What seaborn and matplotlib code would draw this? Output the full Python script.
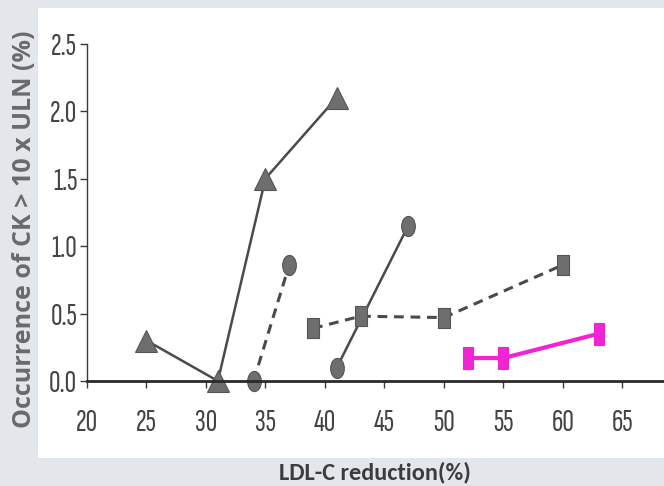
import matplotlib
matplotlib.use("Agg")
import matplotlib.pyplot as plt
import seaborn as sns
from matplotlib.path import Path
from matplotlib.patches import Rectangle
from matplotlib.transforms import Affine2D

# ---- data ----
tri_x = [25, 31, 35, 41]
tri_y = [0.30, 0.00, 1.50, 2.10]
circ_dash_x = [34, 37]
circ_dash_y = [0.00, 0.86]
circ_solid_x = [41, 47]
circ_solid_y = [0.10, 1.15]
sq_x = [39, 43, 50, 60]
sq_y = [0.39, 0.48, 0.47, 0.86]
mag_x = [52, 55, 63]
mag_y = [0.17, 0.17, 0.35]
x_ticks = [20, 25, 30, 35, 40, 45, 50, 55, 60, 65]
y_ticks = [0.0, 0.5, 1.0, 1.5, 2.0, 2.5]
x_label = "LDL-C reduction(%)"
y_label = "Occurrence of CK > 10 x ULN (%)"

sns.set_theme(style="white")
tick_font = ['Sofia Sans Extra Condensed', 'Archivo Narrow', 'DejaVu Sans']
plt.rcParams['font.family'] = tick_font

fig = plt.figure(figsize=(6.64, 4.86), dpi=100)
fig.patch.set_facecolor('#e3e6ea')
# white panel behind the plot
fig.add_artist(Rectangle((38/664, 1-458/486), 1.0, (458-8)/486,
                         transform=fig.transFigure, facecolor='white',
                         edgecolor='none', zorder=0))

ax = fig.add_axes([87/664, 1-381/486, 1-87/664, (381-43.5)/486])
ax.set_facecolor('none')

gray_line = '#4a4a4a'
gray_mark = '#6e6e6e'
mag = '#f024d2'

tall_rect = Path([(-0.42, -1), (0.42, -1), (0.42, 1), (-0.42, 1), (-0.42, -1)],
                 [Path.MOVETO, Path.LINETO, Path.LINETO, Path.LINETO, Path.CLOSEPOLY])
sq_rect = Path([(-0.62, -1), (0.62, -1), (0.62, 1), (-0.62, 1), (-0.62, -1)],
               [Path.MOVETO, Path.LINETO, Path.LINETO, Path.LINETO, Path.CLOSEPOLY])
ellipse = Path.unit_circle().transformed(Affine2D().scale(0.68, 1.0))

common = dict(ax=ax, errorbar=None, clip_on=False, markeredgewidth=0.8)
sns.lineplot(x=tri_x, y=tri_y, marker='^', markersize=16, color=gray_line,
             markerfacecolor=gray_mark, markeredgecolor='#555555',
             linewidth=1.8, linestyle='-', **common)
sns.lineplot(x=circ_dash_x, y=circ_dash_y, marker=ellipse, markersize=14.5, color=gray_line,
             markerfacecolor=gray_mark, markeredgecolor='#555555',
             linewidth=2.2, linestyle=(0, (3.2, 2.2)), **common)
sns.lineplot(x=circ_solid_x, y=circ_solid_y, marker=ellipse, markersize=14.5, color=gray_line,
             markerfacecolor=gray_mark, markeredgecolor='#555555',
             linewidth=1.8, linestyle='-', **common)
sns.lineplot(x=sq_x, y=sq_y, marker=sq_rect, markersize=14.5, color=gray_line,
             markerfacecolor=gray_mark, markeredgecolor='#555555',
             linewidth=2.2, linestyle=(0, (3.2, 2.2)), **common)
sns.lineplot(x=mag_x, y=mag_y, marker=tall_rect, markersize=16, color=mag,
             markerfacecolor=mag, markeredgecolor=mag,
             linewidth=3.0, linestyle='-', **common)

ax.set_xlim(20, 68.5)
ax.set_ylim(0, 2.5)
ax.set_xticks(x_ticks)
ax.set_yticks(y_ticks)
ax.set_yticklabels([f"{v:.1f}" for v in y_ticks])
for s in ['top', 'right']:
    ax.spines[s].set_visible(False)
ax.spines['left'].set_color('#3a3a3a')
ax.spines['left'].set_linewidth(1.0)
ax.spines['bottom'].set_color('#2a2a2a')
ax.spines['bottom'].set_linewidth(2.0)
ax.tick_params(axis='both', which='major', direction='out', length=5, width=1.0,
               color='#3a3a3a', labelsize=23, labelcolor='#444444',
               bottom=True, left=True)
ax.tick_params(axis='x', pad=15)
ax.tick_params(axis='y', pad=2)
for lab in ax.get_xticklabels() + ax.get_yticklabels():
    lab.set_fontweight('medium')
ax.set_xlabel("")
ax.set_ylabel("")

fig.text(375/664, 1-472/486, x_label, ha='center', va='center',
         fontsize=17.5, fontweight='bold', color='#3c3c3c',
         family=['Carlito', 'DejaVu Sans'])
fig.text(25/664, 1-229/486, y_label, ha='center', va='center', rotation=90,
         fontsize=18, fontweight='bold', color='#6a6a6a',
         family=['Open Sans', 'DejaVu Sans'])

fig.savefig('out.png', dpi=100, facecolor=fig.get_facecolor())
